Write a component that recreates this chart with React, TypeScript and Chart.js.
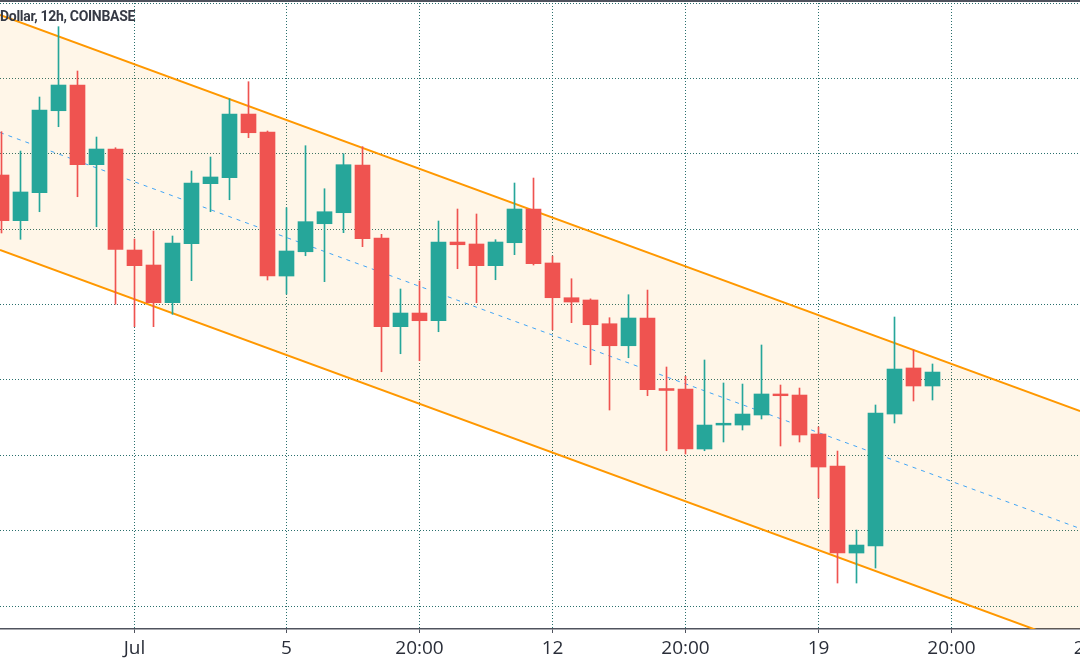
import { useEffect, useRef } from 'react'
import Chart from 'chart.js/auto'

// 12h candles, index 0 = first bar at the left edge
const opens = [
  34718, 34112, 34483, 35571, 35912, 34855, 35063, 33723, 33524, 33024,
  33807, 34603, 34682, 35527, 35289, 33378, 33700, 34072, 34218, 34851,
  33882, 32706, 32887, 32785, 33829, 33803, 33515, 33820, 34267, 33551,
  33090, 33060, 32745, 32453, 32821, 31885, 31879, 31083, 31401, 31401,
  31534, 31813, 31799, 31282, 30857, 29703, 29796, 31547, 32158, 31919,
]
const highs = [
  35293, 35036, 35753, 36686, 36098, 35222, 35080, 33869, 33975, 33909,
  34771, 34957, 35730, 35956, 35302, 34284, 35107, 34536, 35001, 35094,
  33931, 33206, 33312, 34108, 34267, 34201, 33860, 34612, 34678, 33643,
  33342, 33075, 32825, 33130, 33192, 32171, 32047, 32264, 31959, 31945,
  32463, 31932, 31892, 31375, 31056, 30008, 31667, 32834, 32396, 32211,
]
const lows = [
  33949, 33865, 34231, 35359, 34430, 34032, 33003, 32706, 32706, 32870,
  33316, 34231, 34390, 35213, 33325, 33139, 33647, 33303, 33953, 33767,
  32108, 32347, 32254, 32639, 33475, 33024, 33329, 33661, 33524, 32666,
  32759, 32201, 31600, 32294, 31790, 31060, 31017, 31060, 31176, 31335,
  31481, 31123, 31176, 30433, 29305, 29305, 29504, 31428, 31720, 31733,
]
const closes = [
  34112, 34493, 35580, 35912, 34855, 35063, 33732, 33515, 33024, 33816,
  34612, 34692, 35527, 35279, 33378, 33710, 34099, 34231, 34855, 33873,
  32706, 32887, 32785, 33829, 33793, 33515, 33829, 34267, 33541, 33090,
  33033, 32732, 32453, 32821, 31870, 31860, 31083, 31401, 31425, 31547,
  31813, 31790, 31269, 30844, 29703, 29809, 31561, 32144, 31919, 32104,
]

const tickIdx = [7, 15, 22, 29, 36, 43, 50, 57]
const tickLabels = ['Jul', '5', '20:00', '12', '20:00', '19', '20:00', '26']
const priceGrid = [29000, 30000, 31000, 32000, 33000, 34000, 35000, 36000, 37000]

// channel drawn edge to edge
const channelX = [-0.08, 56.77]
const channelTop = [36841, 31587]
const channelMid = [35282, 30028]
const channelBottom = [33723, 28469]

const UP = '#26a69a'
const DOWN = '#ef5350'
const GRID = '#2a6f6d'

export default function App() {
  const chartRef = useRef<HTMLCanvasElement>(null)

  useEffect(() => {
    document.body.style.margin = '0'
    if (!chartRef.current) return
    const existing = Chart.getChart(chartRef.current)
    if (existing) existing.destroy()

    const colors = opens.map((o, i) => (closes[i] >= o ? UP : DOWN))

    const chart = new Chart(chartRef.current, {
      type: 'bar',
      data: {
        datasets: [
          {
            type: 'bar',
            data: opens.map((o, i) => ({ x: i, y: [o, closes[i]] })),
            backgroundColor: colors,
            barThickness: 15,
            minBarLength: 1,
            grouped: false,
            order: 0,
          },
          {
            type: 'bar',
            data: lows.map((l, i) => ({ x: i, y: [l, highs[i]] })),
            backgroundColor: colors,
            barThickness: 1,
            grouped: false,
            order: 1,
          },
          {
            type: 'line',
            data: channelX.map((x, i) => ({ x, y: channelTop[i] })),
            borderColor: '#ff9800',
            borderWidth: 2,
            pointRadius: 0,
            fill: '+2',
            backgroundColor: 'rgba(255,152,0,0.09)',
            order: 3,
          },
          {
            type: 'line',
            data: channelX.map((x, i) => ({ x, y: channelMid[i] })),
            borderColor: '#42a5f5',
            borderWidth: 1,
            borderDash: [4, 5],
            pointRadius: 0,
            fill: false,
            order: 2,
          },
          {
            type: 'line',
            data: channelX.map((x, i) => ({ x, y: channelBottom[i] })),
            borderColor: '#ff9800',
            borderWidth: 2,
            pointRadius: 0,
            fill: false,
            order: 3,
          },
        ],
      },
      options: {
        animation: false,
        responsive: true,
        maintainAspectRatio: false,
        layout: { padding: 0 },
        plugins: { legend: { display: false }, tooltip: { enabled: false } },
        scales: {
          x: {
            type: 'linear',
            min: -1.5 / 19,
            max: 1080 / 19 - 1.5 / 19,
            offset: false,
            grid: { color: GRID, offset: false, tickLength: 4, tickColor: '#50535e', tickWidth: 1 },
            border: { display: true, color: '#50535e', width: 1.5, dash: [1, 2] },
            ticks: {
              autoSkip: false,
              maxRotation: 0,
              padding: 4,
              color: '#2a2e39',
              font: { family: 'Open Sans', size: 19 },
              callback: (_v: any, i: number) => tickLabels[i],
            },
            afterBuildTicks: (s: any) => { s.ticks = tickIdx.map((v) => ({ value: v })) },
            afterFit: (s: any) => { s.height = 41; s.paddingLeft = 0; s.paddingRight = 0 },
          },
          y: {
            type: 'linear',
            min: 28695,
            max: 37040,
            beginAtZero: false,
            ticks: { display: false },
            grid: { color: GRID, drawTicks: false },
            border: { display: false, dash: [1, 2] },
            afterBuildTicks: (s: any) => { s.ticks = priceGrid.map((v) => ({ value: v })) },
            afterFit: (s: any) => { s.width = 0; s.paddingTop = 0; s.paddingBottom = 0 },
          },
        },
      },
    } as any)

    return () => { chart.destroy() }
  }, [])

  return (
    <div style={{ position: 'relative', width: 1080, height: 670, background: '#fff' }}>
      <canvas ref={chartRef} />
      <div style={{ position: 'absolute', left: 0, top: 0, width: 1080, height: 2, background: '#50535e' }} />
      <div style={{ position: 'absolute', left: 0, top: 8, font: '700 14px Roboto', letterSpacing: '-0.3px', color: '#363a45', whiteSpace: 'nowrap' }}>
        Dollar, 12h, COINBASE
      </div>
    </div>
  )
}
